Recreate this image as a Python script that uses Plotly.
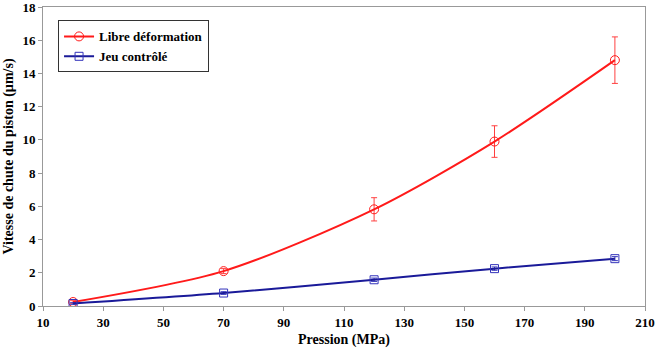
import plotly.graph_objects as go

pression = [20, 70, 120, 160, 200]
libre = [0.24, 2.1, 5.82, 9.9, 14.8]
libre_err = [0.08, 0.15, 0.7, 0.95, 1.4]
jeu = [0.15, 0.78, 1.58, 2.25, 2.85]
jeu_err = [0.05, 0.08, 0.1, 0.1, 0.12]
x_ticks = [10, 30, 50, 70, 90, 110, 130, 150, 170, 190, 210]
y_ticks = [0, 2, 4, 6, 8, 10, 12, 14, 16, 18]

font = "Liberation Serif"

fig = go.Figure()
fig.add_trace(go.Scatter(
    x=pression, y=libre, name="<b>Libre déformation</b>", mode="lines+markers",
    line=dict(color="#ff1a1a", width=2, shape="spline", smoothing=0.8),
    marker=dict(symbol="circle-open", size=9, color="#ff1a1a", line=dict(width=1)),
    error_y=dict(type="data", array=libre_err, visible=True, color="#ff4040", thickness=1, width=3),
))
fig.add_trace(go.Scatter(
    x=pression, y=jeu, name="<b>Jeu contrôlé</b>", mode="lines+markers",
    line=dict(color="#1a1a99", width=2, shape="spline", smoothing=0.8),
    marker=dict(symbol="square-open", size=8, color="#3333bb", line=dict(width=1)),
    error_y=dict(type="data", array=jeu_err, visible=True, color="#3333bb", thickness=1, width=3),
))

fig.update_layout(
    width=657, height=348,
    margin=dict(l=43, r=12, t=7, b=42),
    paper_bgcolor="white", plot_bgcolor="white",
    font=dict(family=font, size=13, color="black"),
    showlegend=True,
    legend=dict(x=0.025, y=0.955, xanchor="left", yanchor="top",
                bordercolor="#333333", borderwidth=1, bgcolor="white",
                font=dict(family=font, size=13, color="black"),
                tracegroupgap=0, itemwidth=30),
    xaxis=dict(range=[10, 210], tickvals=x_ticks, ticktext=[f"<b>{v}</b>" for v in x_ticks],
               showgrid=False, zeroline=False, showline=True, linecolor="#999999", linewidth=1,
               mirror=True, ticks="outside", ticklen=4, tickcolor="#999999",
               ticklabeloverflow="allow", automargin=False,
               tickfont=dict(family=font, size=13),
               title=dict(text="<b>Pression (MPa)</b>", font=dict(family=font, size=14), standoff=5)),
    yaxis=dict(range=[0, 18], tickvals=y_ticks, ticktext=[f"<b>{v}</b>" for v in y_ticks],
               showgrid=False, zeroline=False, showline=True, linecolor="#999999", linewidth=1,
               mirror=True, ticks="outside", ticklen=4, tickcolor="#999999",
               ticklabeloverflow="allow", automargin=False,
               tickfont=dict(family=font, size=13),
               title=dict(text="<b>Vitesse de chute du piston (µm/s)</b>", font=dict(family=font, size=14), standoff=5)),
)

fig.write_html("out.html")
